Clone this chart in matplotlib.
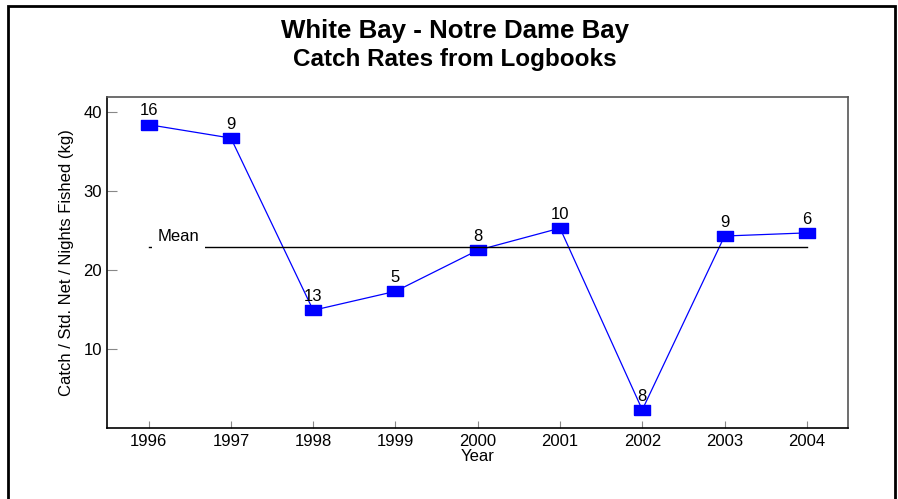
import matplotlib.pyplot as plt
from matplotlib.patches import Rectangle

plt.rcParams['font.family'] = ['Liberation Sans', 'DejaVu Sans']

years = [1996, 1997, 1998, 1999, 2000, 2001, 2002, 2003, 2004]
catch_rate = [38.4, 36.7, 14.9, 17.3, 22.5, 25.3, 2.3, 24.3, 24.7]
n_logbooks = [16, 9, 13, 5, 8, 10, 8, 9, 6]
mean_rate = 22.9

fig = plt.figure(figsize=(8.98, 4.99), dpi=100)
ax = fig.add_axes([0.1197, 0.1423, 0.8246, 0.6633])

# flat rectangle marker
box = [(-1, -0.6), (1, -0.6), (1, 0.6), (-1, 0.6), (-1, -0.6)]
ax.plot(years, catch_rate, color='#0000ff', lw=0.9, marker=box,
        markersize=11, markerfacecolor='#0000ff', markeredgecolor='#0000ff')

for x, y, n in zip(years, catch_rate, n_logbooks):
    ax.annotate(str(n), (x, y), xytext=(0, 4.5), textcoords='offset points',
                ha='center', va='bottom', fontsize=12)

ax.plot([years[0], years[-1]], [mean_rate, mean_rate], color='black', lw=1)
ax.annotate('Mean', (years[0], mean_rate), xytext=(6.5, 7.5), textcoords='offset points',
            ha='left', va='center', fontsize=12, zorder=5,
            bbox=dict(boxstyle='square,pad=0.35', fc='white', ec='none'))

ax.set_xlim(1995.5, 2004.5)
ax.set_ylim(0, 41.9)
ax.set_xticks(years)
ax.set_yticks([10, 20, 30, 40])
ax.tick_params(direction='in', length=7, width=0.8, color='#888888',
               labelsize=12, pad=4)
ax.tick_params(axis='x', length=5)
ax.set_xlabel('Year', fontsize=12, labelpad=0)
ax.set_ylabel('Catch / Std. Net / Nights Fished (kg)', fontsize=12, labelpad=7)

ax.spines['left'].set_color('black')
ax.spines['bottom'].set_color('black')
ax.spines['top'].set_color('#555555')
ax.spines['right'].set_color('#555555')
for s in ax.spines.values():
    s.set_linewidth(1.2)

fig.text(0.507, 0.938, 'White Bay - Notre Dame Bay', ha='center', va='center',
         fontsize=18.6, fontweight='bold')
fig.text(0.507, 0.88, 'Catch Rates from Logbooks', ha='center', va='center',
         fontsize=17.5, fontweight='bold')

# frame round the page, open at the bottom edge
fig.patches.append(Rectangle((0.0089, -0.05), 0.988, 1.038, transform=fig.transFigure,
                             fill=False, ec='black', lw=2))

fig.savefig('out.png', dpi=100)
